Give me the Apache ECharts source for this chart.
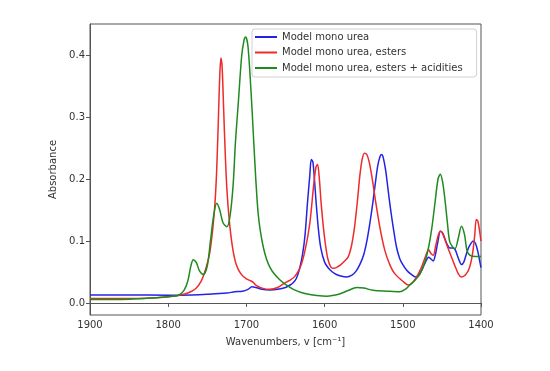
<!DOCTYPE html>
<html><head><meta charset="utf-8">
<script src="https://cdn.jsdelivr.net/npm/echarts@6/dist/echarts.min.js"></script>
<style>html,body{margin:0;padding:0;background:#fff}#c{width:550px;height:371px}</style>
</head><body><div id="c"></div>
<script>
const seriesNames = ['Model mono urea', 'Model mono urea, esters', 'Model mono urea, esters + acidities'];
const xTicks = [1900, 1800, 1700, 1600, 1500, 1400];
const yTicks = [0, 0.1, 0.2, 0.3, 0.4];

const blueWn = [1900,1850,1800,1770,1750,1740,1725,1715,1705,1698,1693,1688,1680,1670,1660,1650,1644,1640,1636,1632,1628,1625,1622,1619,1617,1615,1613,1611,1608,1605,1600,1595,1590,1585,1578,1572,1565,1560,1555,1550,1546,1542,1538,1535,1532,1529,1527,1525,1522,1519,1516,1512,1508,1504,1500,1495,1490,1484,1479,1475,1471,1467,1464,1461,1458,1455,1452,1449,1446,1443,1440,1436,1433,1430,1427,1425,1422,1419,1416,1413,1410,1407,1404,1402,1400];
const blueAbs = [0.013,0.013,0.0125,0.013,0.014,0.015,0.016,0.018,0.019,0.022,0.026,0.025,0.022,0.021,0.022,0.025,0.029,0.033,0.04,0.055,0.08,0.11,0.16,0.205,0.232,0.228,0.2,0.165,0.12,0.09,0.066,0.056,0.05,0.046,0.043,0.042,0.045,0.051,0.062,0.078,0.1,0.13,0.165,0.195,0.222,0.237,0.24,0.235,0.215,0.185,0.155,0.12,0.09,0.072,0.062,0.053,0.047,0.042,0.046,0.055,0.066,0.074,0.071,0.068,0.08,0.1,0.116,0.113,0.103,0.094,0.089,0.089,0.086,0.076,0.066,0.062,0.066,0.078,0.089,0.096,0.1,0.096,0.083,0.07,0.057];

const redWn = [1900,1850,1820,1800,1787,1775,1765,1758,1752,1747,1743,1740,1738,1736,1734,1732.5,1731,1729,1727,1725,1722,1718,1713,1707,1700,1695,1692,1688,1680,1670,1660,1650,1644,1638,1631,1625,1619,1614,1611,1609,1607,1604,1600,1596,1592,1588,1584,1580,1575,1570,1566,1562,1558,1555,1552,1549,1546,1543,1539,1535,1529,1523,1516,1510,1500,1493,1487,1481,1476,1471,1467,1464,1461,1458,1455,1452,1449,1446,1442,1438,1434,1429,1425,1420,1415,1411,1408,1406,1404,1402,1400];
const redAbs = [0.007,0.007,0.008,0.01,0.012,0.016,0.023,0.035,0.055,0.08,0.12,0.165,0.215,0.29,0.37,0.396,0.38,0.31,0.24,0.185,0.135,0.092,0.062,0.047,0.039,0.036,0.034,0.029,0.024,0.022,0.025,0.033,0.037,0.043,0.058,0.085,0.128,0.19,0.22,0.224,0.205,0.155,0.105,0.072,0.058,0.056,0.058,0.061,0.067,0.074,0.09,0.12,0.165,0.205,0.232,0.242,0.24,0.228,0.2,0.166,0.12,0.085,0.06,0.047,0.035,0.029,0.034,0.045,0.058,0.075,0.086,0.08,0.077,0.092,0.108,0.116,0.112,0.102,0.088,0.075,0.062,0.047,0.042,0.045,0.056,0.078,0.11,0.135,0.132,0.118,0.1];

const greenWn = [1900,1850,1820,1800,1787,1780,1775,1771,1768,1764,1760,1755,1750,1746,1742,1738,1734,1730,1725,1721,1717,1714,1710,1706,1703,1701,1698,1694,1691,1688,1685,1682,1678,1674,1670,1665,1657,1650,1640,1630,1619,1610,1597,1590,1580,1570,1559,1550,1538,1520,1504,1497,1491,1485,1478,1472,1467,1463,1459,1455,1452,1449,1446,1443,1440,1436,1433,1429,1425,1421,1418,1414,1407,1400];
const greenAbs = [0.0055,0.006,0.008,0.01,0.0125,0.02,0.035,0.06,0.07,0.065,0.052,0.046,0.06,0.1,0.14,0.161,0.15,0.13,0.123,0.14,0.19,0.26,0.33,0.4,0.425,0.43,0.415,0.34,0.27,0.2,0.145,0.115,0.088,0.07,0.058,0.048,0.037,0.03,0.022,0.017,0.0136,0.012,0.011,0.012,0.015,0.02,0.025,0.024,0.0205,0.019,0.018,0.022,0.029,0.036,0.047,0.065,0.09,0.12,0.16,0.2,0.208,0.195,0.166,0.13,0.099,0.09,0.088,0.105,0.124,0.11,0.085,0.077,0.075,0.075];

function pairs(xs, ys){ return xs.map((x,i)=>[x, ys[i]]); }

const font = 'DejaVu Sans';
const axisColor = '#555';
const chart = echarts.init(document.getElementById('c'), null, {renderer:'canvas'});
chart.setOption({
  animation: false,
  backgroundColor: '#fff',
  grid: {left: 90, right: 69, top: 24, bottom: 56, show: true, borderColor: axisColor, borderWidth: 1, containLabel: false},
  legend: {
    orient: 'vertical', left: 252, top: 29,
    data: seriesNames,
    icon: 'rect', itemWidth: 22, itemHeight: 2, itemGap: 3.5,
    padding: [2, 14, 3, 3],
    backgroundColor: '#fff', borderColor: '#d0d0d0', borderWidth: 1, borderRadius: 3,
    textStyle: {fontFamily: font, fontSize: 10, color: '#333', lineHeight: 12}
  },
  xAxis: {
    type: 'value', inverse: true, min: 1400, max: 1900, interval: 100,
    name: 'Wavenumbers, v [cm⁻¹]', nameLocation: 'middle', nameGap: 22,
    nameTextStyle: {fontFamily: font, fontSize: 10, color: '#333'},
    axisLine: {show: true, lineStyle: {color: axisColor}},
    axisTick: {show: true, inside: false, length: 4, lineStyle: {color: axisColor}, customValues: xTicks},
    axisLabel: {fontFamily: font, fontSize: 10, color: '#333', margin: 5, customValues: xTicks, formatter: v => String(Math.round(v))},
    splitLine: {show: false}
  },
  yAxis: {
    type: 'value', min: -0.0195, max: 0.451,
    name: 'Absorbance', nameLocation: 'middle', nameGap: 28, nameRotate: 90,
    nameTextStyle: {fontFamily: font, fontSize: 10, color: '#333'},
    axisLine: {show: true, lineStyle: {color: axisColor}},
    axisTick: {show: true, inside: false, length: 4, lineStyle: {color: axisColor}, customValues: yTicks},
    axisLabel: {fontFamily: font, fontSize: 10, color: '#333', margin: 5, customValues: yTicks, formatter: v => v.toFixed(1)},
    splitLine: {show: false}
  },
  series: [
    {name: seriesNames[0], type: 'line', data: pairs(blueWn, blueAbs), symbol: 'none', smooth: 0.3, lineStyle: {color: '#2323e6', width: 1.5}, itemStyle: {color: '#2323e6'}},
    {name: seriesNames[1], type: 'line', data: pairs(redWn, redAbs), symbol: 'none', smooth: 0.3, lineStyle: {color: '#ee2a2a', width: 1.5}, itemStyle: {color: '#ee2a2a'}},
    {name: seriesNames[2], type: 'line', data: pairs(greenWn, greenAbs), symbol: 'none', smooth: 0.3, lineStyle: {color: '#1f8a1f', width: 1.5}, itemStyle: {color: '#1f8a1f'}}
  ]
});
</script></body></html>
